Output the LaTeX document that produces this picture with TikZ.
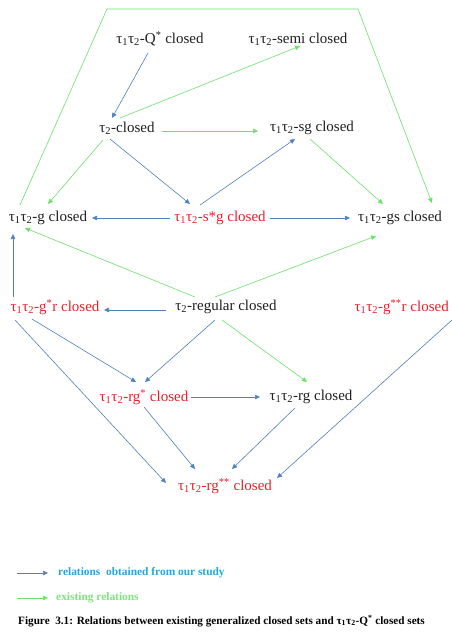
\documentclass[tikz,border=0pt]{standalone}
\usepackage{fontspec}
\setmainfont{Liberation Serif}
\usetikzlibrary{arrows.meta}
\definecolor{arrblue}{HTML}{4F81BD}
\definecolor{arrgreen}{HTML}{6EE06E}
\definecolor{txtred}{HTML}{E8202A}
\definecolor{legblue}{HTML}{2AA3DC}
\definecolor{leggreen}{HTML}{7EE27E}
\newcommand{\ttau}{τ\textsubscript{1}τ\textsubscript{2}}
\newcommand{\sst}[1]{\textsuperscript{#1}}
\begin{document}
\begin{tikzpicture}[x=1pt,y=-1pt,
  lbl/.style={inner sep=0pt,font=\fontsize{15}{17}\selectfont,text=black!88},
  redlbl/.style={lbl,text=txtred},
  tip/.style={-{Triangle[length=5pt,width=4.5pt]}},
  barr/.style={tip,draw=arrblue,line width=0.6pt},
  garr/.style={tip,draw=arrgreen,line width=0.6pt}]
\useasboundingbox (0,0) rectangle (452,632);
\fill[white] (0,0) rectangle (452,632);
% nodes
\node[lbl] (q) at (160,39) {\ttau-Q\sst{*} closed};
\node[lbl] (semi) at (298,39) {\ttau-semi closed};
\node[lbl] (t2) at (127,128) {τ\textsubscript{2}-closed};
\node[lbl] (sg) at (312,128) {\ttau-sg closed};
\node[lbl] (g) at (48,218) {\ttau-g closed};
\node[redlbl] (ssg) at (220,218) {\ttau-s*g closed};
\node[lbl] (gs) at (400,218) {\ttau-gs closed};
\node[redlbl] (gsr) at (55,307) {\ttau-g\sst{*}r closed};
\node[lbl] (reg) at (226,307) {τ\textsubscript{2}-regular closed};
\node[redlbl,anchor=east] (gssr) at (449,307) {\ttau-g\sst{**}r closed};
\node[redlbl] (rgs) at (144,397) {\ttau-rg\sst{*} closed};
\node[lbl] (rg) at (311,397) {\ttau-rg closed};
\node[redlbl] (rgss) at (225,486) {\ttau-rg\sst{**} closed};
% frame coordinates
\coordinate (tl) at (107,9);
\coordinate (tr) at (358,9);
% arrows
\draw[barr] ([shift={(-12,14)}]q.center) -- ([shift={(-15,-10)}]t2.center);
\draw[garr] ([shift={(-7,-10)}]t2.center) -- ([shift={(2,7)}]semi.center);
\draw[garr] ([shift={(35,3)}]t2.center) -- ([shift={(-54,3)}]sg.center);
\draw[garr] ([shift={(-24,12)}]t2.center) -- ([shift={(0,-14)}]g.center);
\draw[barr] ([shift={(-17,11)}]t2.center) -- ([shift={(-30,-14)}]ssg.center);
\draw[barr] ([shift={(-20,-13)}]ssg.center) -- ([shift={(-17,11)}]sg.center);
\draw[garr] ([shift={(-2,11)}]sg.center) -- ([shift={(-17,-14)}]gs.center);
\draw[barr] ([shift={(-50,0)}]ssg.center) -- ([shift={(44,0)}]g.center);
\draw[barr] ([shift={(50,0)}]ssg.center) -- ([shift={(-50,0)}]gs.center);
\draw[garr] ([shift={(-31,-10)}]reg.center) -- ([shift={(-23,10)}]g.center);
\draw[garr] ([shift={(-11,-10)}]reg.center) -- ([shift={(-24,18)}]gs.center);
\draw[barr] ([shift={(-42,-10)}]gsr.center) -- ([shift={(-35,16)}]g.center);
\draw[barr] ([shift={(-60,3)}]reg.center) -- ([shift={(49,3)}]gsr.center);
\draw[barr] ([shift={(-23,12)}]gsr.center) -- ([shift={(-8,-15)}]rgs.center);
\draw[barr] ([shift={(-40,13)}]gsr.center) -- ([shift={(-59,-3)}]rgss.center);
\draw[barr] ([shift={(-11,13)}]reg.center) -- ([shift={(1,-15)}]rgs.center);
\draw[garr] ([shift={(-4,13)}]reg.center) -- ([shift={(-4,-15)}]rg.center);
\draw[barr] ([shift={(47,0)}]rgs.center) -- ([shift={(-51,0)}]rg.center);
\draw[barr] ([shift={(0,10)}]rgs.center) -- ([shift={(-30,-17)}]rgss.center);
\draw[barr] ([shift={(-16,11)}]rg.center) -- ([shift={(7,-17)}]rgss.center);
\draw[barr] ([shift={(3,13)}]gssr.east) -- ([shift={(52,-8)}]rgss.center);
\draw[garr] ([shift={(-28,-13)}]g.center) -- (tl) -- (tr) -- ([shift={(32,-15)}]gs.center);
% legend
\coordinate (lb1) at (17,573);
\coordinate (lb2) at (48,573);
\coordinate (lg1) at (17,598);
\coordinate (lg2) at (48,598);
\draw[barr] (lb1) -- (lb2);
\draw[garr] (lg1) -- (lg2);
\node[anchor=west,inner sep=0pt,font=\bfseries\fontsize{11.4}{13}\selectfont,text=legblue] (lbt) at (58,573) {relations\ \ obtained from our study};
\node[anchor=west,inner sep=0pt,font=\bfseries\fontsize{11.4}{13}\selectfont,text=leggreen] (lgt) at (56,598) {existing relations};
\node[anchor=west,inner sep=0pt,font=\bfseries\fontsize{11.2}{13}\selectfont,text=black] (cap) at (18,621) {Figure\ \ 3.1: Relations between existing generalized closed sets and \ttau-Q\sst{*} closed sets};
\end{tikzpicture}
\end{document}
